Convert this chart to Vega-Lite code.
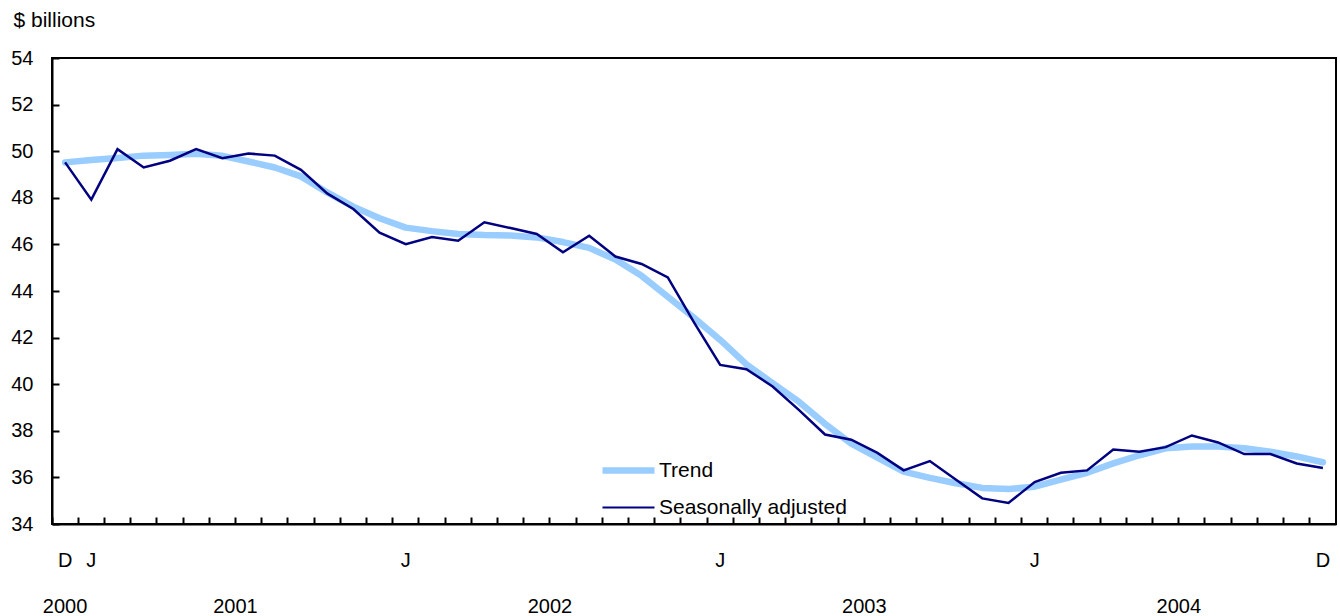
{
  "$schema": "https://vega.github.io/schema/vega-lite/v6.json",
  "width": 1284,
  "height": 466,
  "autosize": {"type": "none"},
  "padding": {"left": 52, "top": 58, "right": 4, "bottom": 92},
  "background": "white",
  "config": {
    "font": "Liberation Sans",
    "view": {"stroke": "#000000", "strokeWidth": 2},
    "axis": {"labelColor": "#000000", "titleColor": "#000000", "domainColor": "#000000", "tickColor": "#000000", "grid": false, "labelFont": "Liberation Sans", "titleFont": "Liberation Sans"},
    "legend": {"labelFont": "Liberation Sans", "labelColor": "#000000"}
  },
  "data": {
    "values": [
      {"month": "2000-12", "Trend": 49.52, "Seasonally adjusted": 49.52},
      {"month": "2001-01", "Trend": 49.62, "Seasonally adjusted": 47.92},
      {"month": "2001-02", "Trend": 49.71, "Seasonally adjusted": 50.09},
      {"month": "2001-03", "Trend": 49.81, "Seasonally adjusted": 49.30},
      {"month": "2001-04", "Trend": 49.84, "Seasonally adjusted": 49.59},
      {"month": "2001-05", "Trend": 49.89, "Seasonally adjusted": 50.09},
      {"month": "2001-06", "Trend": 49.80, "Seasonally adjusted": 49.70},
      {"month": "2001-07", "Trend": 49.56, "Seasonally adjusted": 49.90},
      {"month": "2001-08", "Trend": 49.30, "Seasonally adjusted": 49.81},
      {"month": "2001-09", "Trend": 48.92, "Seasonally adjusted": 49.20},
      {"month": "2001-10", "Trend": 48.23, "Seasonally adjusted": 48.19},
      {"month": "2001-11", "Trend": 47.62, "Seasonally adjusted": 47.52},
      {"month": "2001-12", "Trend": 47.12, "Seasonally adjusted": 46.50},
      {"month": "2002-01", "Trend": 46.72, "Seasonally adjusted": 46.01},
      {"month": "2002-02", "Trend": 46.57, "Seasonally adjusted": 46.32},
      {"month": "2002-03", "Trend": 46.45, "Seasonally adjusted": 46.16},
      {"month": "2002-04", "Trend": 46.40, "Seasonally adjusted": 46.95},
      {"month": "2002-05", "Trend": 46.38, "Seasonally adjusted": 46.70},
      {"month": "2002-06", "Trend": 46.30, "Seasonally adjusted": 46.45},
      {"month": "2002-07", "Trend": 46.10, "Seasonally adjusted": 45.66},
      {"month": "2002-08", "Trend": 45.85, "Seasonally adjusted": 46.37},
      {"month": "2002-09", "Trend": 45.35, "Seasonally adjusted": 45.48},
      {"month": "2002-10", "Trend": 44.65, "Seasonally adjusted": 45.16},
      {"month": "2002-11", "Trend": 43.75, "Seasonally adjusted": 44.58},
      {"month": "2002-12", "Trend": 42.85, "Seasonally adjusted": 42.65},
      {"month": "2003-01", "Trend": 41.90, "Seasonally adjusted": 40.83},
      {"month": "2003-02", "Trend": 40.85, "Seasonally adjusted": 40.64},
      {"month": "2003-03", "Trend": 40.05, "Seasonally adjusted": 39.90},
      {"month": "2003-04", "Trend": 39.25, "Seasonally adjusted": 38.90},
      {"month": "2003-05", "Trend": 38.30, "Seasonally adjusted": 37.84},
      {"month": "2003-06", "Trend": 37.45, "Seasonally adjusted": 37.62},
      {"month": "2003-07", "Trend": 36.85, "Seasonally adjusted": 37.05},
      {"month": "2003-08", "Trend": 36.25, "Seasonally adjusted": 36.30},
      {"month": "2003-09", "Trend": 35.98, "Seasonally adjusted": 36.70},
      {"month": "2003-10", "Trend": 35.75, "Seasonally adjusted": 35.90},
      {"month": "2003-11", "Trend": 35.55, "Seasonally adjusted": 35.10},
      {"month": "2003-12", "Trend": 35.50, "Seasonally adjusted": 34.90},
      {"month": "2004-01", "Trend": 35.60, "Seasonally adjusted": 35.80},
      {"month": "2004-02", "Trend": 35.90, "Seasonally adjusted": 36.20},
      {"month": "2004-03", "Trend": 36.20, "Seasonally adjusted": 36.30},
      {"month": "2004-04", "Trend": 36.60, "Seasonally adjusted": 37.20},
      {"month": "2004-05", "Trend": 36.95, "Seasonally adjusted": 37.10},
      {"month": "2004-06", "Trend": 37.25, "Seasonally adjusted": 37.30},
      {"month": "2004-07", "Trend": 37.33, "Seasonally adjusted": 37.80},
      {"month": "2004-08", "Trend": 37.33, "Seasonally adjusted": 37.50},
      {"month": "2004-09", "Trend": 37.25, "Seasonally adjusted": 37.00},
      {"month": "2004-10", "Trend": 37.10, "Seasonally adjusted": 37.00},
      {"month": "2004-11", "Trend": 36.90, "Seasonally adjusted": 36.60},
      {"month": "2004-12", "Trend": 36.65, "Seasonally adjusted": 36.40}
    ]
  },
  "transform": [
    {"fold": ["Trend", "Seasonally adjusted"], "as": ["series", "value"]}
  ],
  "resolve": {"axis": {"x": "independent"}},
  "layer": [
    {
      "transform": [{"filter": "datum.series == 'Trend'"}],
      "mark": {"type": "line", "strokeCap": "round", "strokeJoin": "round"},
      "encoding": {
        "x": {
          "field": "month", "type": "ordinal",
          "scale": {"type": "band", "paddingInner": 0, "paddingOuter": 0},
          "axis": {
            "orient": "bottom",
            "title": null,
            "bandPosition": 0,
            "domainWidth": 2,
            "tickSize": -7,
            "tickWidth": 2,
            "labelAngle": 0,
            "labelAlign": "center",
            "labelBaseline": "alphabetic",
            "labelFontSize": 20,
            "labelPadding": 49,
            "labelOffset": 0,
            "labelOverlap": false,
            "labelFlush": false,
            "labelExpr": "datum.value == '2000-12' || datum.value == '2004-12' ? 'D' : (slice(datum.value, 5) == '01' ? 'J' : '')"
          }
        },
        "y": {
          "field": "value", "type": "quantitative",
          "scale": {"domain": [34, 54], "nice": false, "zero": false},
          "axis": {
            "title": "$ billions",
            "values": [34, 36, 38, 40, 42, 44, 46, 48, 50, 52, 54],
            "domainWidth": 2,
            "tickSize": -7,
            "tickWidth": 2,
            "labelFontSize": 20,
            "labelPadding": 26,
            "titleAngle": 0,
            "titleAlign": "left",
            "titleBaseline": "alphabetic",
            "titleX": -39,
            "titleY": -31.5,
            "titleFontSize": 21,
            "titleFontWeight": "normal"
          }
        },
        "color": {
          "field": "series", "type": "nominal",
          "scale": {"domain": ["Trend", "Seasonally adjusted"], "range": ["#99CCFF", "#000080"]},
          "legend": {
            "orient": "none",
            "legendX": 566,
            "legendY": 402,
            "title": null,
            "symbolType": "stroke",
            "symbolSize": 2704,
            "labelFontSize": 21,
            "labelOffset": 20,
            "labelLimit": 400,
            "padding": 0,
            "rowPadding": 12,
            "labelColor": "#000000",
            "encode": {
              "symbols": {"update": {"strokeWidth": {"signal": "datum.value == 'Trend' ? 6.5 : 2.2"}}}
            }
          }
        },
        "strokeWidth": {
          "field": "series", "type": "nominal",
          "scale": {"type": "ordinal", "domain": ["Trend", "Seasonally adjusted"], "range": [6.5, 2.2]},
          "legend": null
        }
      }
    },
    {
      "transform": [{"filter": "datum.series == 'Seasonally adjusted'"}],
      "mark": {"type": "line", "strokeJoin": "miter"},
      "encoding": {
        "x": {
          "field": "month", "type": "ordinal",
          "axis": {
            "orient": "bottom",
            "title": null,
            "bandPosition": 0,
            "domain": false,
            "ticks": false,
            "labelAngle": 0,
            "labelAlign": "center",
            "labelBaseline": "alphabetic",
            "labelFontSize": 20,
            "labelPadding": 88,
            "labelOffset": {"condition": {"test": "datum.value == '2000-12'", "value": 0}, "value": -13.1},
            "labelOverlap": false,
            "labelFlush": false,
            "labelExpr": "datum.value == '2000-12' ? '2000' : (slice(datum.value, 5) == '07' ? slice(datum.value, 0, 4) : '')"
          }
        },
        "y": {"field": "value", "type": "quantitative"},
        "color": {"field": "series", "type": "nominal"},
        "strokeWidth": {"field": "series", "type": "nominal", "legend": null}
      }
    }
  ]
}
